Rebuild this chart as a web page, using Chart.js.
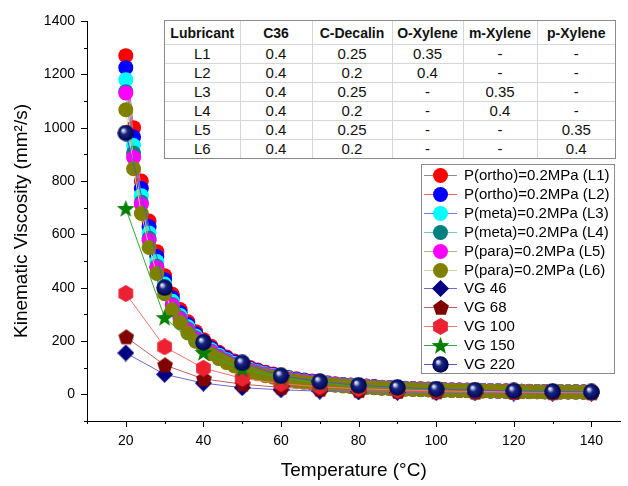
<!DOCTYPE html>
<html>
<head>
<meta charset="utf-8">
<script src="https://cdn.jsdelivr.net/npm/chart.js@4.4.0/dist/chart.umd.min.js"></script>
<style>
  html, body { margin: 0; padding: 0; background: #fff; }
  #wrap { position: relative; width: 628px; height: 486px; }
  #viscosity-canvas { position: absolute; left: 0; top: 0; }
  .table-box {
    position: absolute; left: 164px; top: 20px;
    border: 1px solid #8a8a8a; background: #fff;
  }
  #blend-table {
    border-collapse: collapse; border-style: hidden; table-layout: fixed;
    font-family: Arial, "Liberation Sans", sans-serif; color: #111;
  }
  #blend-table th, #blend-table td { border: 1px solid #d6d6d6; text-align: center; padding: 0; }
  #blend-table th { font-size: 14px; font-weight: bold; height: 23px; }
  #blend-table td { font-size: 15px; height: 18px; line-height: 18px; }
</style>
</head>
<body>
<div id="wrap">
  <canvas id="viscosity-canvas" width="628" height="486"></canvas>
  <div class="table-box"><table id="blend-table"></table></div>
</div>
<script>
// ---- data ----
const tableHead = ['Lubricant', 'C36', 'C-Decalin', 'O-Xylene', 'm-Xylene', 'p-Xylene'];
const tableRows = [
  ['L1', '0.4', '0.25', '0.35', '-', '-'],
  ['L2', '0.4', '0.2', '0.4', '-', '-'],
  ['L3', '0.4', '0.25', '-', '0.35', '-'],
  ['L4', '0.4', '0.2', '-', '0.4', '-'],
  ['L5', '0.4', '0.25', '-', '-', '0.35'],
  ['L6', '0.4', '0.2', '-', '-', '0.4'],
];

const tempL = [20, 22, 24, 26, 28, 30, 32, 34, 36, 38, 40, 42, 44, 46, 48, 50, 52, 54, 56, 58,
  60, 62, 64, 66, 68, 70, 72, 74, 76, 78, 80, 82, 84, 86, 88, 90, 92, 94, 96, 98,
  100, 102, 104, 106, 108, 110, 112, 114, 116, 118, 120, 122, 124, 126, 128, 130, 132, 134, 136, 138, 140];
const tempVG = [20, 30, 40, 50, 60, 70, 80, 90, 100, 110, 120, 130, 140];

const viscL1 = [1270, 1000, 800, 650, 535, 445, 375, 318, 272, 235,
  205, 180, 158, 140, 125, 112, 101, 91, 83, 76,
  69, 63, 58, 54, 50, 46, 43, 40, 37, 35,
  33, 31, 29, 27, 26, 24, 23, 22, 21, 20,
  19, 18, 17, 16.5, 16, 15, 14.5, 14, 13.5, 13,
  12.5, 12, 11.5, 11, 10.8, 10.5, 10.2, 10, 9.7, 9.5, 9.2];
const viscL2 = [1225, 965, 772, 628, 517, 430, 362, 307, 263, 227,
  198, 174, 153, 135, 121, 108, 97, 88, 80, 73,
  67, 61, 56, 52, 48, 44, 41, 38, 36, 34,
  32, 30, 28, 26, 25, 23, 22, 21, 20, 19,
  18, 17, 16.5, 16, 15.5, 14.5, 14, 13.5, 13, 12.5,
  12, 11.5, 11, 10.7, 10.4, 10.1, 9.8, 9.6, 9.4, 9.2, 9.0];
const viscL3 = [1180, 933, 745, 605, 498, 414, 349, 296, 253, 219,
  191, 167, 147, 130, 116, 104, 94, 85, 77, 71,
  64, 59, 54, 50, 46, 43, 40, 37, 35, 33,
  31, 29, 27, 25, 24, 22, 21, 20, 19, 18,
  17.5, 16.5, 16, 15.5, 15, 14, 13.5, 13, 12.5, 12,
  11.5, 11, 10.7, 10.4, 10.1, 9.8, 9.5, 9.3, 9.1, 8.9, 8.7];
const viscL4 = [1135, 905, 720, 585, 480, 400, 337, 286, 245, 212,
  184, 162, 142, 126, 112, 101, 91, 82, 75, 68,
  62, 57, 52, 48, 45, 41, 38, 36, 34, 32,
  30, 28, 26, 24, 23, 22, 21, 20, 19, 18,
  17, 16, 15.5, 15, 14.5, 13.5, 13, 12.5, 12, 11.7,
  11.2, 10.8, 10.4, 10.1, 9.8, 9.5, 9.2, 9.0, 8.8, 8.6, 8.4];
const viscL5 = [1130, 888, 712, 578, 476, 396, 334, 283, 242, 209,
  182, 160, 141, 125, 111, 100, 90, 81, 74, 68,
  61, 56, 52, 48, 44, 41, 38, 36, 33, 31,
  29, 28, 26, 24, 23, 21, 20, 19.5, 18.5, 17.5,
  17, 16, 15.5, 15, 14.5, 13.5, 13, 12.5, 12, 11.6,
  11.1, 10.7, 10.3, 10, 9.7, 9.4, 9.1, 8.9, 8.7, 8.5, 8.3];
const viscL6 = [1067, 846, 678, 551, 453, 377, 317, 269, 230, 199,
  173, 152, 134, 119, 106, 95, 85, 77, 70, 64,
  58, 53, 49, 45, 42, 39, 36, 34, 31, 29,
  28, 26, 25, 23, 22, 20, 19, 18.5, 17.5, 16.5,
  16, 15, 14.5, 14, 13.5, 13, 12.5, 12, 11.5, 11,
  10.6, 10.2, 9.8, 9.5, 9.2, 8.9, 8.7, 8.5, 8.3, 8.1, 7.9];

const viscVG46  = [155, 75, 42, 25, 17, 12, 9, 7.5, 6.5, 5.5, 5, 4.5, 4];
const viscVG68  = [215, 110, 58, 38, 26, 19, 14, 11, 9, 8, 7, 6, 5.5];
const viscVG100 = [378, 178, 98, 60, 40, 28, 21, 16, 13, 11, 9.5, 8.5, 7.5];
const viscVG150 = [697, 288, 157, 95, 62, 43, 31, 24, 19, 15.5, 13, 11, 10];
const viscVG220 = [980, 400, 195, 118, 70, 48, 34, 26, 20, 16, 13, 11, 9];

const FONT = 'Arial, "Liberation Sans", sans-serif';

// ---- table overlay ----
function buildTable() {
  const table = document.getElementById('blend-table');
  const widths = [75, 72, 80, 71, 74, 78];
  let html = '<colgroup>' + widths.map(w => `<col style="width:${w}px">`).join('') + '</colgroup>';
  html += '<tr>' + tableHead.map(h => `<th>${h}</th>`).join('') + '</tr>';
  tableRows.forEach(r => { html += '<tr>' + r.map(c => `<td>${c}</td>`).join('') + '</tr>'; });
  table.innerHTML = html;
}

// ---- marker images ----
function markerCanvas(size, draw) {
  const c = document.createElement('canvas');
  c.width = size; c.height = size;
  draw(c.getContext('2d'), size / 2);
  return c;
}

function polygon(ctx, c, r, n, color) {
  ctx.beginPath();
  for (let i = 0; i < n; i++) {
    const a = -Math.PI / 2 + i * 2 * Math.PI / n;
    ctx.lineTo(c + r * Math.cos(a), c + r * Math.sin(a));
  }
  ctx.closePath();
  ctx.fillStyle = color;
  ctx.fill();
}

const diamondImg = markerCanvas(17, (ctx, c) => polygon(ctx, c, 8.5, 4, '#000080'));
const pentagonImg = markerCanvas(17, (ctx, c) => polygon(ctx, c + 0.5, 8.3, 5, '#800000'));
const hexagonImg = markerCanvas(17, (ctx, c) => polygon(ctx, c, 8.5, 6, '#ec2233'));
const starImg = markerCanvas(19, (ctx, c) => {
  ctx.beginPath();
  for (let i = 0; i < 10; i++) {
    const a = -Math.PI / 2 + i * Math.PI / 5;
    const r = i % 2 === 0 ? 9.3 : 3.9;
    ctx.lineTo(c + r * Math.cos(a), c + 0.7 + r * Math.sin(a));
  }
  ctx.closePath();
  ctx.fillStyle = '#008000';
  ctx.fill();
});
const sphereImg = markerCanvas(17, (ctx, c) => {
  const g = ctx.createRadialGradient(c - 3, c - 3, 0, c, c, c);
  g.addColorStop(0, '#ffffff');
  g.addColorStop(0.18, '#aab4dc');
  g.addColorStop(0.4, '#1a2580');
  g.addColorStop(0.85, '#000a5a');
  g.addColorStop(1, '#000040');
  ctx.beginPath();
  ctx.arc(c, c, c - 0.3, 0, Math.PI * 2);
  ctx.fillStyle = g;
  ctx.fill();
});

// ---- series ----
const seriesDefs = [
  { label: 'P(ortho)=0.2MPa (L1)', t: tempL, v: viscL1, fill: '#ff0000', line: '#8c8c8c', style: 'circle' },
  { label: 'P(ortho)=0.2MPa (L2)', t: tempL, v: viscL2, fill: '#0000ff', line: '#ff6060', style: 'circle' },
  { label: 'P(meta)=0.2MPa (L3)', t: tempL, v: viscL3, fill: '#00ffff', line: '#7878ff', style: 'circle' },
  { label: 'P(meta)=0.2MPa (L4)', t: tempL, v: viscL4, fill: '#008080', line: '#66cccc', style: 'circle' },
  { label: 'P(para)=0.2MPa (L5)', t: tempL, v: viscL5, fill: '#ff00ff', line: '#b8b870', style: 'circle' },
  { label: 'P(para)=0.2MPa (L6)', t: tempL, v: viscL6, fill: '#808000', line: '#d2d2a0', style: 'circle' },
  { label: 'VG 46', t: tempVG, v: viscVG46, fill: '#000080', line: '#6a6ad0', style: diamondImg },
  { label: 'VG 68', t: tempVG, v: viscVG68, fill: '#800000', line: '#c06060', style: pentagonImg },
  { label: 'VG 100', t: tempVG, v: viscVG100, fill: '#ec2233', line: '#ff7070', style: hexagonImg },
  { label: 'VG 150', t: tempVG, v: viscVG150, fill: '#008000', line: '#33aa33', style: starImg },
  { label: 'VG 220', t: tempVG, v: viscVG220, fill: '#000080', line: '#5555bb', style: sphereImg },
];

const datasets = seriesDefs.map((s, i) => ({
  label: s.label,
  data: s.t.map((t, k) => ({ x: t, y: s.v[k] })),
  showLine: true,
  borderColor: s.line,
  borderWidth: 1,
  backgroundColor: s.fill,
  pointStyle: s.style,
  pointRadius: 7.5,
  pointBorderWidth: 0,
  order: seriesDefs.length - i, // first series drawn first (underneath)
}));

// ---- plugins ----
const tickMarks = {
  id: 'tickMarks',
  afterDraw(chart) {
    const { ctx, chartArea, scales: { x, y } } = chart;
    ctx.save();
    ctx.strokeStyle = '#000';
    ctx.lineWidth = 1;
    ctx.beginPath();
    for (let v = 10; v <= 140; v += 10) {
      const px = Math.round(x.getPixelForValue(v)) + 0.5;
      ctx.moveTo(px, chartArea.bottom);
      ctx.lineTo(px, chartArea.bottom + (v % 20 === 0 ? 6 : 3));
    }
    for (let v = -100; v <= 1400; v += 100) {
      const py = Math.round(y.getPixelForValue(v)) + 0.5;
      ctx.moveTo(chartArea.left, py);
      ctx.lineTo(chartArea.left - (v % 200 === 0 ? 6 : 3), py);
    }
    ctx.stroke();
    ctx.restore();
  }
};

const boxLegend = {
  id: 'boxLegend',
  afterDraw(chart) {
    const { ctx } = chart;
    const left = 421, top = 164, right = 614, bottom = 373;
    const rowH = 18.9, firstY = 175;
    ctx.save();
    ctx.fillStyle = '#fff';
    ctx.fillRect(left, top, right - left, bottom - top);
    ctx.strokeStyle = '#8a8a8a';
    ctx.lineWidth = 1;
    ctx.strokeRect(left + 0.5, top + 0.5, right - left, bottom - top);
    ctx.font = `15px ${FONT}`;
    ctx.textBaseline = 'middle';
    seriesDefs.forEach((s, i) => {
      const yy = Math.round(firstY + i * rowH);
      ctx.strokeStyle = s.line;
      ctx.beginPath();
      ctx.moveTo(424, yy + 0.5);
      ctx.lineTo(457, yy + 0.5);
      ctx.stroke();
      if (s.style === 'circle') {
        ctx.beginPath();
        ctx.arc(440.5, yy + 0.5, 7.5, 0, Math.PI * 2);
        ctx.fillStyle = s.fill;
        ctx.fill();
      } else {
        const img = s.style;
        ctx.drawImage(img, 440.5 - img.width / 2, yy + 0.5 - img.height / 2);
      }
      ctx.fillStyle = '#000';
      ctx.fillText(s.label, 464, yy + 1);
    });
    ctx.restore();
  }
};

// ---- chart ----
buildTable();
const ctx = document.getElementById('viscosity-canvas').getContext('2d');
new Chart(ctx, {
  type: 'scatter',
  data: { datasets },
  options: {
    responsive: false,
    animation: false,
    devicePixelRatio: 1,
    layout: { padding: { top: 21, right: 0, bottom: 0, left: 0 } },
    plugins: { legend: { display: false }, tooltip: { enabled: false } },
    scales: {
      x: {
        type: 'linear', min: 10, max: 147.5,
        grid: { display: false, drawTicks: false },
        border: { display: true, color: '#000', width: 1 },
        ticks: {
          stepSize: 10, includeBounds: false, autoSkip: false, maxRotation: 0,
          padding: 12, color: '#000', font: { family: FONT, size: 14 },
          callback: v => (v % 20 === 0 ? v : '')
        },
        title: { display: true, text: 'Temperature (°C)', color: '#000', font: { family: FONT, size: 19 }, padding: { top: 0, bottom: 4 } },
        afterFit: s => { s.height = 65; }
      },
      y: {
        type: 'linear', min: -100, max: 1400,
        grid: { display: false, drawTicks: false },
        border: { display: true, color: '#000', width: 1 },
        ticks: {
          stepSize: 100, autoSkip: false, padding: 12, color: '#000',
          font: { family: FONT, size: 14 },
          callback: v => (v % 200 === 0 ? v : '')
        },
        title: { display: true, text: 'Kinematic Viscosity (mm²/s)', color: '#000', font: { family: FONT, size: 19 }, padding: { top: 10, bottom: 0 } },
        afterFit: s => { s.width = 87; }
      }
    }
  },
  plugins: [tickMarks, boxLegend]
});
</script>
</body>
</html>
